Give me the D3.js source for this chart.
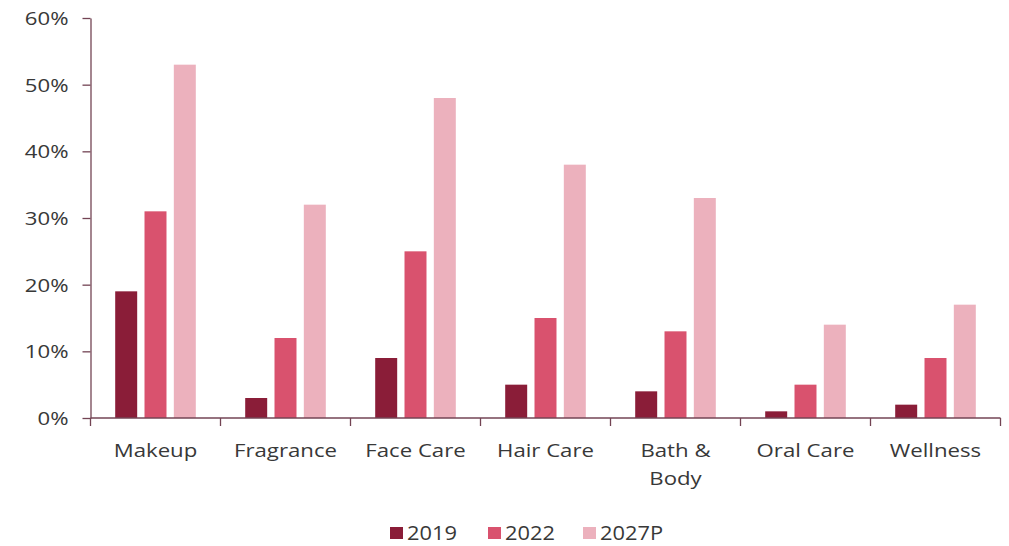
<!DOCTYPE html>
<html>
<head>
<meta charset="utf-8">
<script src="https://cdn.jsdelivr.net/npm/d3@7"></script>
<style>
  html, body { margin: 0; padding: 0; background: #fff; }
  svg { display: block; }
  text { font-family: "Open Sans", sans-serif; fill: #383838; }
</style>
</head>
<body>
<svg id="chart" width="1009" height="546"></svg>
<script>
// Category labels (multi-line labels split on "\n")
const categories = ["Makeup", "Fragrance", "Face Care", "Hair Care", "Bath &\nBody", "Oral Care", "Wellness"];
// Share values (%) per series
const series = ["2019", "2022", "2027P"];
const values2019 = [19, 3, 9, 5, 4, 1, 2];
const values2022 = [31, 12, 25, 15, 13, 5, 9];
const values2027P = [53, 32, 48, 38, 33, 14, 17];
const yTicks = [0, 10, 20, 30, 40, 50, 60];
const colors = ["#8a1d38", "#d9526e", "#ecb1bd"];

const seriesValues = [values2019, values2022, values2027P];
const rows = categories.map((c, i) => ({ cat: c, vals: series.map((s, j) => ({ key: s, value: seriesValues[j][i] })) }));

const svg = d3.select("#chart");
const axisColor = "#734454";
const stretch = 1.2; // horizontal glyph stretch of all labels
const fontSize = 18.5;

const x0 = d3.scaleBand().domain(categories).range([90.5, 1000.5]).paddingInner(0).paddingOuter(0);
const groupPad = 0.19;
const x1 = d3.scaleBand().domain(series)
  .range([x0.bandwidth() * groupPad, x0.bandwidth() * (1 - groupPad)])
  .paddingInner(0.25).paddingOuter(0);
const y = d3.scaleLinear().domain([0, 60]).range([418, 18]);

// Bars
const groups = svg.append("g").selectAll("g").data(rows).join("g")
  .attr("transform", d => `translate(${x0(d.cat)},0)`);
groups.selectAll("rect").data(d => d.vals).join("rect")
  .attr("x", d => x1(d.key))
  .attr("width", x1.bandwidth())
  .attr("y", d => y(d.value))
  .attr("height", d => y(0) - y(d.value))
  .attr("fill", (d, i) => colors[i]);

// Y axis
const yAxis = svg.append("g").attr("transform", "translate(90.5,0)")
  .call(d3.axisLeft(y).tickValues(yTicks).tickFormat(d => d + "%").tickSize(8).tickSizeOuter(0));
yAxis.select(".domain").attr("stroke", axisColor).attr("stroke-width", 1.3);
yAxis.selectAll(".tick line").attr("stroke", axisColor).attr("stroke-width", 1.3);
yAxis.selectAll(".tick text")
  .attr("x", -22 / stretch)
  .attr("dy", "0.36em")
  .attr("transform", `scale(${stretch},1)`)
  .style("font-size", fontSize + "px")
  .style("font-family", "'Open Sans', sans-serif")
  .attr("fill", "#383838");

// X axis (baseline with category dividers)
const xAxis = svg.append("g").attr("transform", `translate(0,${y(0)})`);
xAxis.append("line").attr("x1", 90.5).attr("x2", 1000.5).attr("y1", 0).attr("y2", 0)
  .attr("stroke", axisColor).attr("stroke-width", 1.3);
const edges = categories.map(c => x0(c)).concat([x0.range()[1]]);
xAxis.selectAll("line.div").data(edges).join("line").attr("class", "div")
  .attr("x1", d => d).attr("x2", d => d).attr("y1", 0).attr("y2", 8)
  .attr("stroke", axisColor).attr("stroke-width", 1.3);

// Category labels
const labels = svg.append("g").selectAll("g").data(categories).join("g")
  .attr("transform", c => `translate(${x0(c) + x0.bandwidth() / 2},457) scale(${stretch},1)`);
labels.append("text").attr("text-anchor", "middle").style("font-size", fontSize + "px")
  .selectAll("tspan").data(c => c.split("\n")).join("tspan")
  .attr("x", 0).attr("y", (d, i) => i * 28).text(d => d);

// Legend
const legendX = [390, 488, 583];
const legend = svg.append("g").selectAll("g").data(series).join("g")
  .attr("transform", (s, i) => `translate(${legendX[i]},0)`);
legend.append("rect").attr("x", 0).attr("y", 527).attr("width", 13).attr("height", 12)
  .attr("fill", (s, i) => colors[i]);
legend.append("g").attr("transform", `translate(17,540) scale(1.12,1)`)
  .append("text").style("font-size", "19.5px").text(s => s);
</script>
</body>
</html>
